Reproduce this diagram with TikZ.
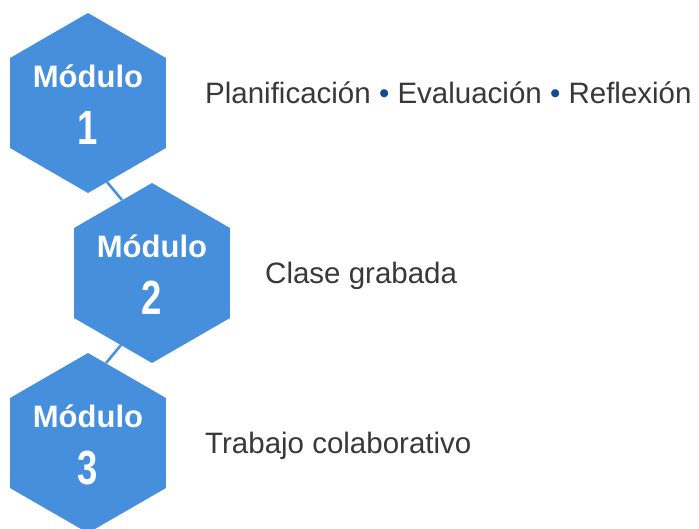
\documentclass[tikz,border=0pt]{standalone}
\usepackage{fontspec}
\setmainfont{Liberation Sans}
\usetikzlibrary{shapes.geometric}
\definecolor{hexblue}{HTML}{458FDC}
\definecolor{dotblue}{HTML}{0E4C96}
\definecolor{txtgray}{HTML}{383838}
\begin{document}
\begin{tikzpicture}[x=1pt, y=-1pt]
		\tikzset{hx/.style={regular polygon, regular polygon sides=6, shape border rotate=30, minimum size=180pt, inner sep=0pt, fill=hexblue}};
		\tikzset{hword/.style={text=white, font=\bfseries\fontsize{31}{31}\selectfont, anchor=base, inner sep=0pt}};
		\tikzset{hnum/.style={text=white, font=\bfseries\fontsize{48}{48}\selectfont, anchor=base, inner sep=0pt}};
		\tikzset{desc/.style={text=txtgray, font=\fontsize{29.5}{29.5}\selectfont, anchor=base west, inner sep=0pt}};
		\tikzset{link/.style={draw=hexblue, line width=2.5pt}};

		\useasboundingbox (0,0) rectangle (699,528);

		\node[hx] (m1) at (88, 103) {};
		\node[hx] (m2) at (152, 273) {};
		\node[hx] (m3) at (88, 443) {};

		\node[hword] (w1) at ([yshift=16pt]m1.center) {Módulo};
		\node[hnum] (n1) at ([yshift=-41pt]m1.center) {\scalebox{0.76}[1]{1}};
		\node[hword] (w2) at ([yshift=16pt]m2.center) {Módulo};
		\node[hnum] (n2) at ([yshift=-41pt]m2.center) {\scalebox{0.76}[1]{2}};
		\node[hword] (w3) at ([yshift=16pt]m3.center) {Módulo};
		\node[hnum] (n3) at ([yshift=-41pt]m3.center) {\scalebox{0.76}[1]{3}};

		\node[desc] (d1) at (205, 103) {Planificación {\color{dotblue}•} Evaluación {\color{dotblue}•} Reflexión};
		\node[desc] (d2) at (265, 283) {Clase grabada};
		\node[desc] (d3) at (205, 453) {Trabajo colaborativo};

		\coordinate (l1a) at (107, 182);
		\coordinate (l1b) at (122, 200);
		\coordinate (l2a) at (121, 345);
		\coordinate (l2b) at (106, 363);

		\draw[link] (l1a) to (l1b);
		\draw[link] (l2a) to (l2b);
	\end{tikzpicture}
\end{document}
